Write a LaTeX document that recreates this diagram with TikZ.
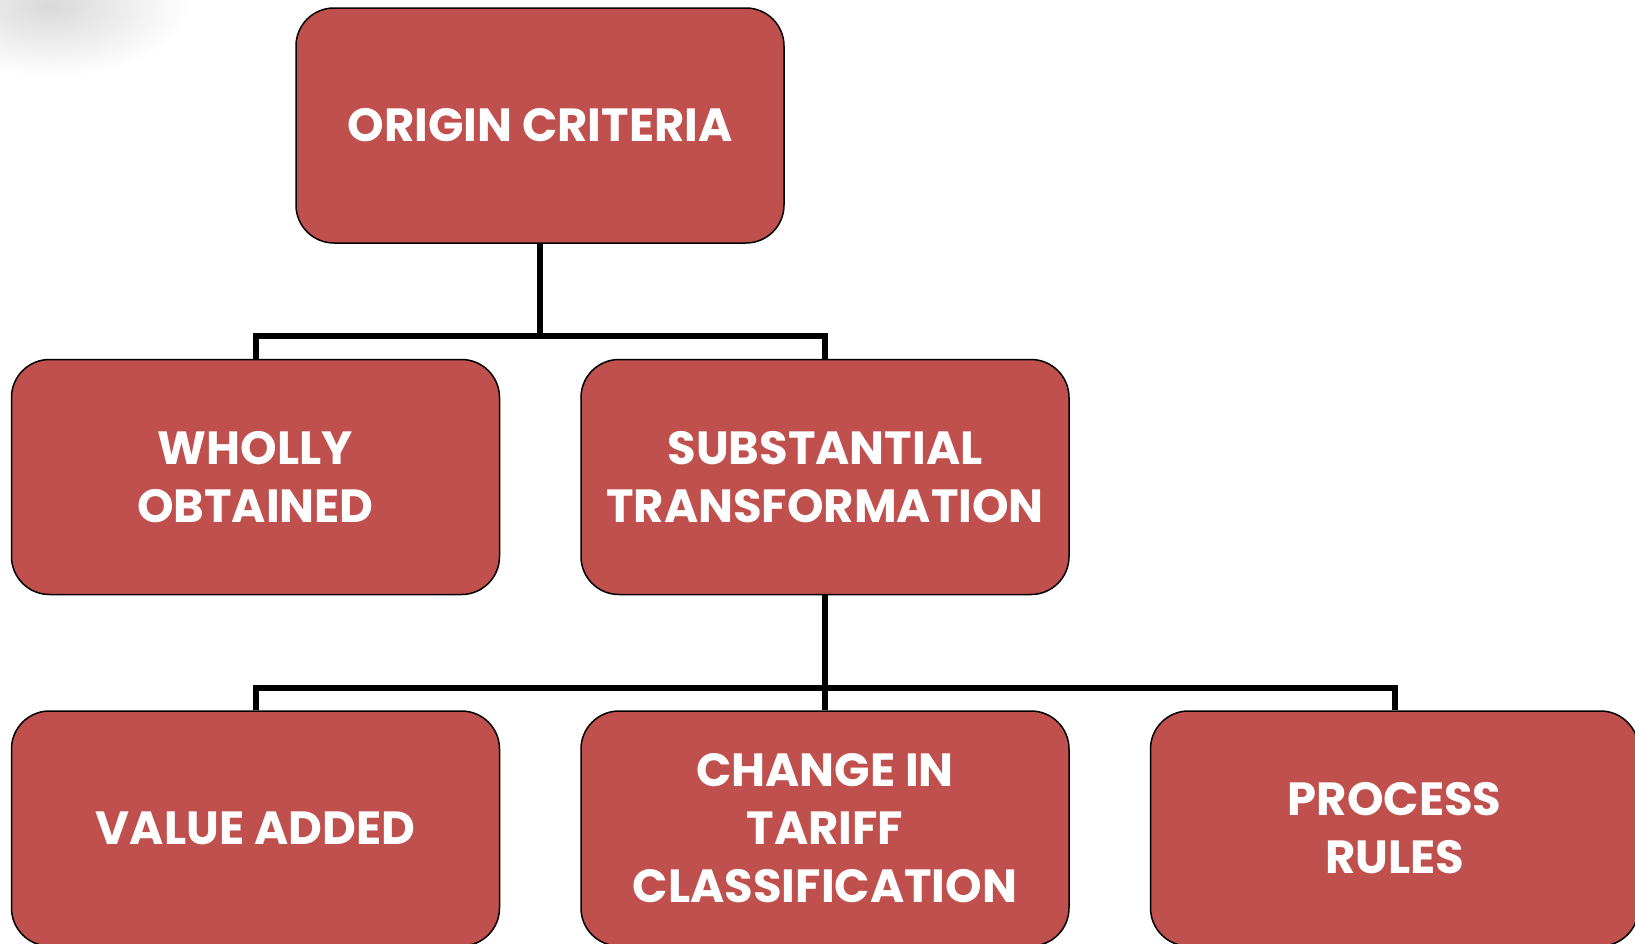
\documentclass[tikz,border=0pt]{standalone}
\usepackage{fontspec}
\setmainfont{Poppins}
\definecolor{boxred}{HTML}{C0504D}
\begin{document}
\begin{tikzpicture}[x=1pt,y=-1pt,
  crit/.style={draw=black, line width=1.5pt, fill=boxred, rounded corners=38pt,
    minimum width=488pt, minimum height=235pt, align=center, text=white,
    font=\fontsize{46.5}{58}\selectfont\bfseries, inner sep=0pt},
  link/.style={draw=black, line width=6pt, line join=miter}]
  \useasboundingbox (0,0) rectangle (1635,943);
  \clip (0,0) rectangle (1635,943);
  % soft grey smudge in the upper left corner
  \shade[inner color=black!15, outer color=white] (50,5) ellipse [x radius=140, y radius=72];

  % boxes
  \node[crit] (top) at (540,125.5) {ORIGIN CRITERIA};
  \node[crit] (wo) at (255.5,477) {WHOLLY\\OBTAINED};
  \node[crit] (st) at (825,477) {SUBSTANTIAL\\TRANSFORMATION};
  \node[crit] (va) at (255.5,828.5) {VALUE ADDED};
  \node[crit] (ct) at (825,828.5) {CHANGE IN\\TARIFF\\CLASSIFICATION};
  \node[crit] (pr) at (1394.5,828.5) {PROCESS\\RULES};

  % bus points of the tree connectors
  \coordinate (b1) at (540,336);
  \coordinate (b2) at (825,688);

  \draw[link] (top.south) -- (b1);
  \draw[link] (wo.north) |- (b1) -| (st.north);
  \draw[link] (st.south) -- (b2);
  \draw[link] (va.north) |- (b2) -| (pr.north);
  \draw[link] (b2) -- (ct.north);
\end{tikzpicture}
\end{document}
